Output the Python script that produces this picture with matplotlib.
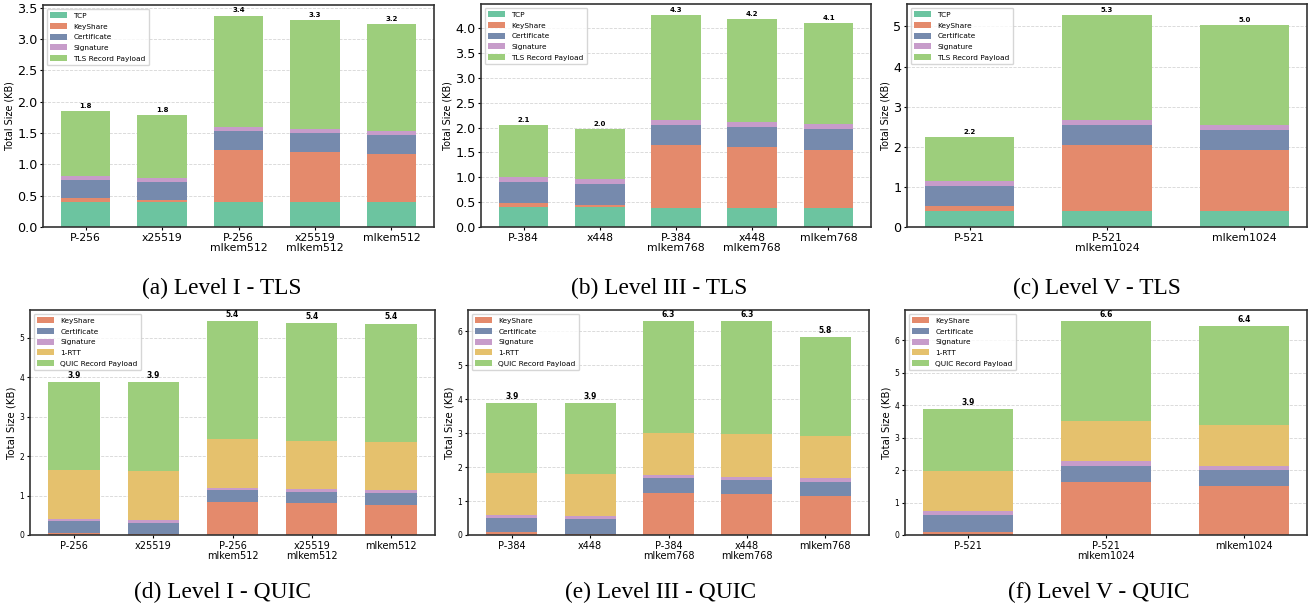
import matplotlib
matplotlib.use("Agg")
import matplotlib.pyplot as plt
from matplotlib.ticker import MultipleLocator
import numpy as np

# ---------------- data ----------------
tls_layers = ["TCP", "KeyShare", "Certificate", "Signature", "TLS Record Payload"]
quic_layers = ["KeyShare", "Certificate", "Signature", "1-RTT", "QUIC Record Payload"]

cats_l1 = ["P-256", "x25519", "P-256\nmlkem512", "x25519\nmlkem512", "mlkem512"]
cats_l3 = ["P-384", "x448", "P-384\nmlkem768", "x448\nmlkem768", "mlkem768"]
cats_l5 = ["P-521", "P-521\nmlkem1024", "mlkem1024"]

# (a) Level I - TLS
a_tcp = [0.40, 0.40, 0.40, 0.40, 0.40]
a_keyshare = [0.062, 0.030, 0.835, 0.800, 0.770]
a_cert = [0.290, 0.290, 0.305, 0.305, 0.305]
a_sig = [0.070, 0.065, 0.064, 0.064, 0.065]
a_payload = [1.026, 1.000, 1.773, 1.742, 1.700]

# (b) Level III - TLS
b_tcp = [0.40, 0.40, 0.39, 0.39, 0.39]
b_keyshare = [0.090, 0.040, 1.260, 1.220, 1.160]
b_cert = [0.410, 0.425, 0.400, 0.410, 0.425]
b_sig = [0.100, 0.100, 0.105, 0.100, 0.105]
b_payload = [1.060, 1.010, 2.120, 2.075, 2.020]

# (c) Level V - TLS
c_tcp = [0.39, 0.39, 0.39]
c_keyshare = [0.126, 1.655, 1.530]
c_cert = [0.500, 0.500, 0.500]
c_sig = [0.130, 0.130, 0.130]
c_payload = [1.100, 2.620, 2.490]

# (d) Level I - QUIC
d_keyshare = [0.050, 0.017, 0.838, 0.812, 0.761]
d_cert = [0.305, 0.290, 0.295, 0.280, 0.305]
d_sig = [0.060, 0.070, 0.060, 0.080, 0.075]
d_rtt = [1.235, 1.245, 1.245, 1.210, 1.220]
d_payload = [2.230, 2.255, 2.990, 2.995, 2.995]

# (e) Level III - QUIC
e_keyshare = [0.089, 0.030, 1.240, 1.210, 1.150]
e_cert = [0.410, 0.440, 0.440, 0.410, 0.415]
e_sig = [0.090, 0.090, 0.090, 0.090, 0.110]
e_rtt = [1.240, 1.240, 1.240, 1.270, 1.240]
e_payload = [2.065, 2.095, 3.305, 3.335, 2.920]

# (f) Level V - QUIC
f_keyshare = [0.093, 1.636, 1.513]
f_cert = [0.520, 0.495, 0.495]
f_sig = [0.125, 0.155, 0.125]
f_rtt = [1.235, 1.235, 1.270]
f_payload = [1.914, 3.087, 3.040]

captions = ["(a) Level I - TLS", "(b) Level III - TLS", "(c) Level V - TLS",
            "(d) Level I - QUIC", "(e) Level III - QUIC", "(f) Level V - QUIC"]

# ---------------- styles ----------------
colors = {
    "TCP": "#6cc4a0",
    "KeyShare": "#e48a6c",
    "Certificate": "#768aad",
    "Signature": "#c79cca",
    "TLS Record Payload": "#9dce7c",
    "QUIC Record Payload": "#9dce7c",
    "1-RTT": "#e5c16d",
}

W, H = 1312, 611
fig = plt.figure(figsize=(W / 100, H / 100), dpi=100)


def add_ax(l, r, t, b):
    return fig.add_axes([l / W, 1 - b / H, (r - l) / W, (b - t) / H])


def panel(ax, cats, layers, series, ystep, ytick_fs, xtick_fs, ylab_fs, val_fs, yfmt):
    x = np.arange(len(cats))
    bottom = np.zeros(len(cats))
    for name, vals in zip(layers, series):
        vals = np.asarray(vals, dtype=float)
        ax.bar(x, vals, width=0.65, bottom=bottom, color=colors[name],
               label=name, linewidth=0, zorder=2)
        bottom = bottom + vals
    for xi, tot in zip(x, bottom):
        ax.annotate(f"{tot:.1f}", (xi, tot), xytext=(0, 1.5),
                    textcoords="offset points", ha="center", va="bottom",
                    fontsize=val_fs, fontweight="bold")
    ax.set_xticks(x)
    ax.set_xticklabels(cats, fontsize=xtick_fs, linespacing=1.0)
    ax.yaxis.set_major_locator(MultipleLocator(ystep))
    ax.yaxis.set_major_formatter(yfmt)
    ax.tick_params(axis="y", labelsize=ytick_fs, length=2.5, pad=1.5)
    ax.tick_params(axis="x", length=2.5, pad=1.5)
    ax.set_ylabel("Total Size (KB)", fontsize=ylab_fs, labelpad=2)
    ax.grid(axis="y", linestyle="--", color="#cccccc", linewidth=0.6, alpha=0.8)
    ax.set_axisbelow(True)
    for s in ax.spines.values():
        s.set_color("#333333")
        s.set_linewidth(1.2)
    ax.legend(loc="upper left", fontsize=5.3, handlelength=2.3,
              handleheight=0.9, labelspacing=0.55, borderpad=0.5,
              framealpha=0.8, edgecolor="#cccccc")


top_fs = dict(ytick_fs=9.2, xtick_fs=7.8, ylab_fs=6.9, val_fs=5.0)
bot_fs = dict(ytick_fs=5.5, xtick_fs=7.0, ylab_fs=7.3, val_fs=5.5)

ax_a = add_ax(43, 434, 5, 227)
panel(ax_a, cats_l1, tls_layers, [a_tcp, a_keyshare, a_cert, a_sig, a_payload],
      0.5, yfmt="{x:.1f}", **top_fs)
ax_b = add_ax(481, 871, 4, 227)
panel(ax_b, cats_l3, tls_layers, [b_tcp, b_keyshare, b_cert, b_sig, b_payload],
      0.5, yfmt="{x:.1f}", **top_fs)
ax_c = add_ax(907, 1307, 4, 227)
panel(ax_c, cats_l5, tls_layers, [c_tcp, c_keyshare, c_cert, c_sig, c_payload],
      1, yfmt="{x:.0f}", **top_fs)

ax_d = add_ax(30, 435, 310, 535)
panel(ax_d, cats_l1, quic_layers, [d_keyshare, d_cert, d_sig, d_rtt, d_payload],
      1, yfmt="{x:.0f}", **bot_fs)
ax_e = add_ax(468, 869, 310, 535)
panel(ax_e, cats_l3, quic_layers, [e_keyshare, e_cert, e_sig, e_rtt, e_payload],
      1, yfmt="{x:.0f}", **bot_fs)
ax_f = add_ax(905, 1307, 310, 535)
panel(ax_f, cats_l5, quic_layers, [f_keyshare, f_cert, f_sig, f_rtt, f_payload],
      1, yfmt="{x:.0f}", **bot_fs)

cap_x = [222, 659, 1097, 222, 661, 1099]
cap_y = [288, 288, 288, 592, 592, 592]
for cx, cy, txt in zip(cap_x, cap_y, captions):
    fig.text(cx / W, 1 - cy / H, txt, ha="center", va="center",
             family="Liberation Serif", fontsize=16.8)

fig.savefig("out.png", dpi=100)
